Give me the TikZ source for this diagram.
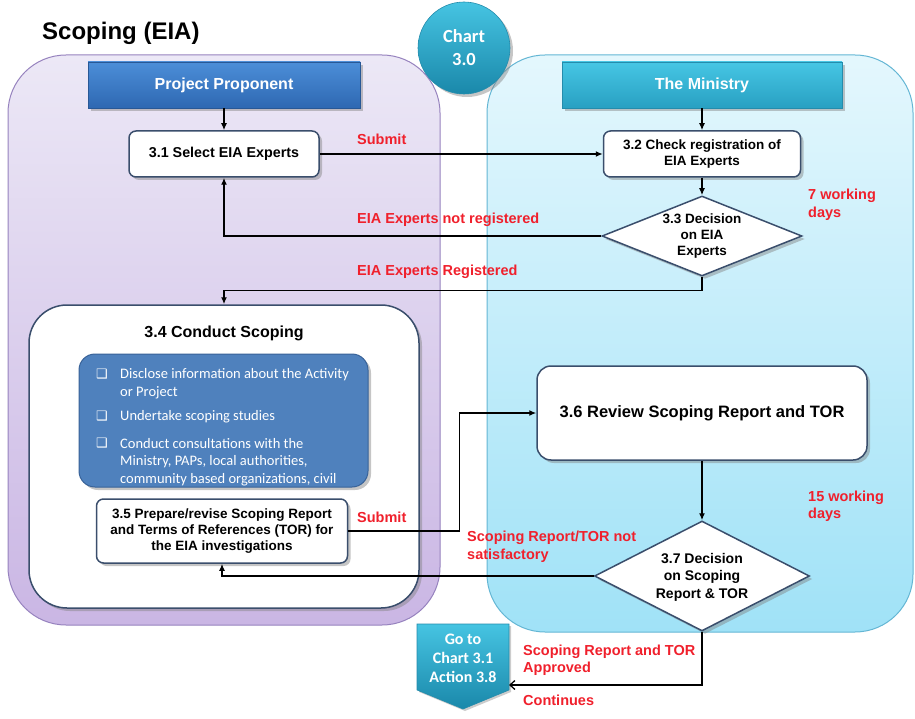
\documentclass[tikz,border=0pt]{standalone}
\usepackage{fontspec}
\setmainfont{Liberation Sans}
\newfontfamily\calfont{Carlito}
\newfontfamily\symfont{DejaVu Sans}
\usetikzlibrary{arrows.meta,shapes.geometric,shadows,calc}

\definecolor{boxline}{RGB}{58,78,108}
\definecolor{redtxt}{RGB}{240,32,44}
\definecolor{purpTop}{RGB}{236,232,246}
\definecolor{purpBot}{RGB}{202,182,228}
\definecolor{purpLine}{RGB}{150,130,190}
\definecolor{cyanTop}{RGB}{228,247,253}
\definecolor{cyanBot}{RGB}{160,226,247}
\definecolor{cyanLine}{RGB}{100,182,212}
\definecolor{ppTop}{RGB}{76,142,216}
\definecolor{ppBot}{RGB}{46,104,178}
\definecolor{ppLine}{RGB}{40,88,150}
\definecolor{minTop}{RGB}{70,198,228}
\definecolor{minBot}{RGB}{40,160,194}
\definecolor{minLine}{RGB}{36,140,172}
\definecolor{tealTop}{RGB}{70,196,226}
\definecolor{tealBot}{RGB}{26,136,170}
\definecolor{listblue}{RGB}{79,129,189}
\definecolor{listline}{RGB}{56,98,152}

\newcommand\bxfont{\bfseries\fontsize{13.5}{16}\selectfont}

\begin{document}
\begin{tikzpicture}[x=1pt,y=-1pt,
  shadowed/.style={drop shadow={shadow xshift=3pt,shadow yshift=-3pt,fill=black!50,opacity=0.45}},
  stepbox/.style={draw=boxline,line width=1.5pt,fill=white,rounded corners=7pt,
    align=center,font=\bxfont,inner sep=2pt,shadowed},
  dia/.style={shape=diamond,draw=boxline,line width=1.5pt,fill=white,inner sep=0pt,shadowed},
  hdr/.style={draw,line width=0.8pt,text=white,font=\bfseries\fontsize{16}{18}\selectfont,shadowed},
  rlab/.style={text=redtxt,font=\bfseries\fontsize{14.5}{17.5}\selectfont,anchor=west,align=left,inner sep=0pt},
  item/.style={text=white,font=\calfont\fontsize{14.5}{17.5}\selectfont,anchor=west,align=left,inner sep=0pt},
  bul/.style={text=white,font=\symfont\fontsize{13}{14}\selectfont,inner sep=0pt},
  arr/.style={draw=black,line width=1.3pt,-{Latex[length=7pt,width=6pt]}},
  openarr/.style={draw=black,line width=1.3pt,-{Straight Barb[length=5pt,width=9pt]}},
]
\useasboundingbox (0,0) rectangle (915,719);

% swim lanes
\shadedraw[top color=purpTop,bottom color=purpBot,draw=purpLine,line width=1pt,rounded corners=58pt]
  (8,55) rectangle (440,625);
\shadedraw[top color=cyanTop,bottom color=cyanBot,draw=cyanLine,line width=1pt,rounded corners=58pt]
  (487,55) rectangle (913,632);

% title and chart badge
\node[font=\bfseries\fontsize{24}{27}\selectfont,anchor=west,inner sep=0pt] (title) at (42,33) {Scoping (EIA)};
\node[circle,minimum size=92pt,top color=tealTop,bottom color=tealBot,draw=minLine,line width=0.6pt,
  shadowed,text=white,align=center,font=\calfont\bfseries\fontsize{18.5}{23}\selectfont] (chart) at (464,48) {Chart\\3.0};

% lane headers
\node[hdr,top color=ppTop,bottom color=ppBot,draw=ppLine,minimum width=272pt,minimum height=46pt] (pp) at (224,85) {Project Proponent};
\node[hdr,top color=minTop,bottom color=minBot,draw=minLine,minimum width=280pt,minimum height=46pt] (min) at (702,85) {The Ministry};

% steps
\node[stepbox,minimum width=190pt,minimum height=46pt,font=\bfseries\fontsize{14.3}{16}\selectfont] (s31) at (224,154) {3.1 Select EIA Experts};
\node[stepbox,minimum width=197pt,minimum height=46pt] (s32) at (702,154) {3.2 Check registration of\\EIA Experts};
\node[dia,minimum width=200pt,minimum height=80pt] (d33) at (702,236) {};
\node[font=\bxfont,align=center,inner sep=0pt] (t33) at (702,236) {3.3 Decision\\on EIA\\Experts};

\node[stepbox,rounded corners=38pt,minimum width=390pt,minimum height=303pt] (s34) at (224,456.5) {};
\node[font=\bfseries\fontsize{16}{19}\selectfont,inner sep=0pt] (t34) at (224,333) {3.4 Conduct Scoping};

\node[draw=listline,line width=1pt,fill=listblue,rounded corners=16pt,minimum width=289pt,minimum height=133pt,shadowed] (lst) at (223.5,420.5) {};
\begin{scope}
  \clip[rounded corners=16pt] (lst.north west) rectangle (lst.south east);
  \node[bul] (b1) at (102,374) {❑};
  \node[item] (i1) at (120,383.5) {Disclose information about the Activity\\or Project};
  \node[bul] (b2) at (102,416) {❑};
  \node[item] (i2) at (120,417) {Undertake scoping studies};
  \node[bul] (b3) at (102,443) {❑};
  \node[item] (i3) at (120,462) {Conduct consultations with the\\Ministry, PAPs, local authorities,\\community based organizations, civil};
\end{scope}

\node[stepbox,minimum width=251pt,minimum height=64pt] (s35) at (222,531) {3.5 Prepare/revise Scoping Report\\and Terms of References (TOR) for\\the EIA investigations};

\node[stepbox,rounded corners=14pt,minimum width=330pt,minimum height=94pt,font=\bfseries\fontsize{16.5}{19}\selectfont] (s36) at (702,413) {3.6 Review Scoping Report and TOR};
\node[dia,minimum width=215pt,minimum height=110pt] (d37) at (702,576) {};
\node[font=\bfseries\fontsize{14}{17.5}\selectfont,align=center,inner sep=0pt] (t37) at (702,577) {3.7 Decision\\on Scoping\\Report \& TOR};

% off-page connector
\shadedraw[top color=tealTop,bottom color=tealBot,draw=minLine,line width=0.6pt,
  drop shadow={shadow xshift=2pt,shadow yshift=-2pt,fill=black!50,opacity=0.4}]
  (417,624) -- (509,624) -- (509,690) -- (463,709) -- (417,690) -- cycle;
\node[text=white,align=center,font=\calfont\bfseries\fontsize{16}{19}\selectfont,inner sep=0pt] (goto) at (463,658) {Go to\\Chart 3.1\\Action 3.8};
\coordinate (gotoin) at (509,685);

% connectors
\draw[arr] (pp.south) -- (s31.north);
\draw[arr] (min.south) -- (s32.north);
\draw[arr] (s31.east) -- (s32.west);
\draw[arr] (s32.south) -- (d33.north);
\draw[arr] (d33.west) -| (s31.south);
\draw[arr] (d33.south) -- ++(0,14) -| (s34.north);
\draw[arr] (s35.east) -- ++(111,0) |- (s36.west);
\draw[arr] (s36.south) -- (d37.north);
\draw[arr] (d37.west) -| (s35.south);
\draw[openarr] (d37.south) |- (gotoin);

% connector labels
\node[rlab] (l1) at (357,139) {Submit};
\node[rlab] (l2) at (357,220) {EIA Experts not registered};
\node[rlab] (l3) at (357,272) {EIA Experts Registered};
\node[rlab] (l4) at (808,205) {7 working\\days};
\node[rlab] (l5) at (357,517) {Submit};
\node[rlab] (l6) at (467,546.5) {Scoping Report/TOR not\\satisfactory};
\node[rlab] (l7) at (808,506) {15 working\\days};
\node[rlab] (l8) at (523,660) {Scoping Report and TOR\\Approved};
\node[rlab] (l9) at (523,700) {Continues};
\end{tikzpicture}
\end{document}
